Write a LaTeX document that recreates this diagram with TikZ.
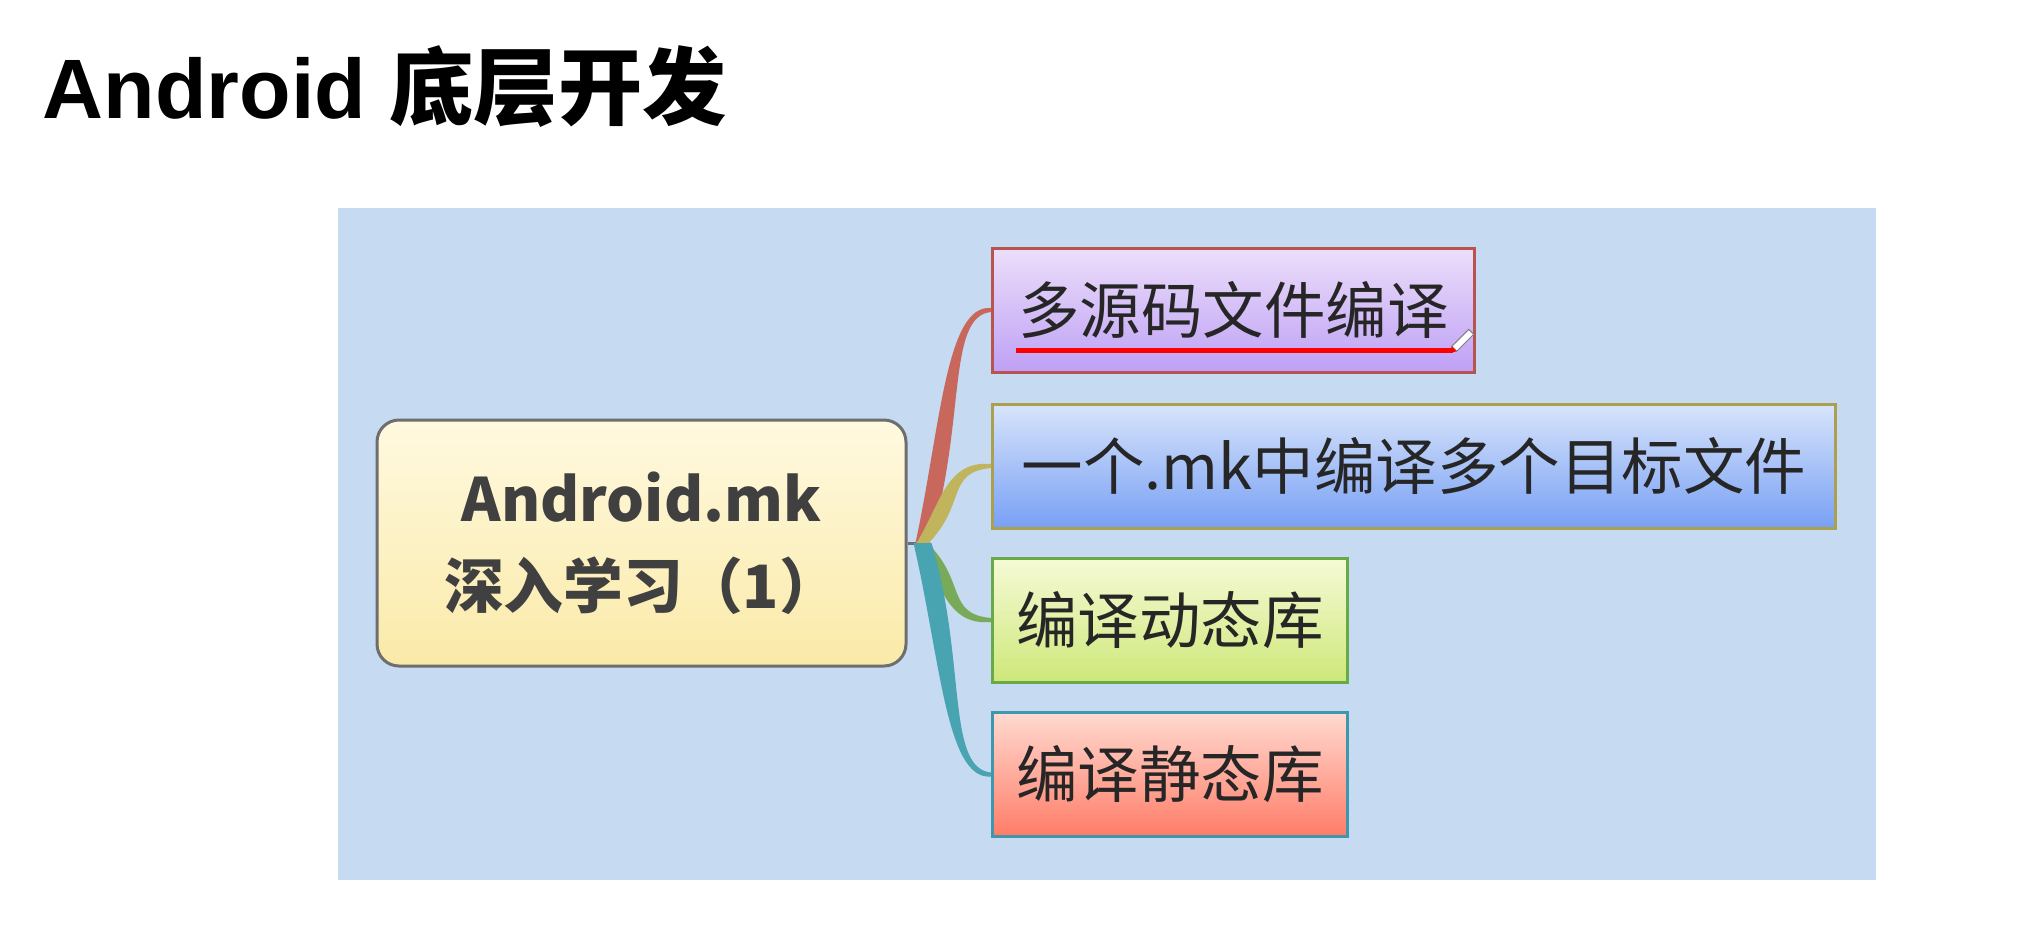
\documentclass[tikz,border=0pt]{standalone}
\usepackage{fontspec}
\setmainfont{Liberation Sans}
\newfontfamily\cjk{Noto Sans CJK SC}
\usetikzlibrary{calc}

\definecolor{bgblue}{RGB}{198,218,242}
\definecolor{rootline}{RGB}{110,110,110}
\definecolor{roottop}{RGB}{255,249,224}
\definecolor{rootbot}{RGB}{250,234,168}
\definecolor{roottext}{RGB}{64,64,64}
\definecolor{oneline}{RGB}{184,84,80}
\definecolor{onetop}{RGB}{236,222,250}
\definecolor{onebot}{RGB}{190,160,245}
\definecolor{twoline}{RGB}{170,160,80}
\definecolor{twotop}{RGB}{216,228,250}
\definecolor{twobot}{RGB}{120,160,245}
\definecolor{threeline}{RGB}{104,170,72}
\definecolor{threetop}{RGB}{246,250,214}
\definecolor{threebot}{RGB}{206,232,122}
\definecolor{fourline}{RGB}{64,150,170}
\definecolor{fourtop}{RGB}{255,218,208}
\definecolor{fourbot}{RGB}{255,124,104}
\definecolor{twigred}{RGB}{200,104,92}
\definecolor{twigolive}{RGB}{192,180,92}
\definecolor{twiggreen}{RGB}{120,170,90}
\definecolor{twigteal}{RGB}{72,164,176}

% tapered branch: colour, target node, end half-width (+ up, - down), start half-width
\newcommand{\twig}[4]{%
  \fill[#1] ($(hub)+(-#4,0)$)
    .. controls ($(hub)!0.5!(hub |- #2.west)+(0.18,0)$) and ($(#2.west)+(-0.45,{3*(#3)})$) .. ($(#2.west)+(0,#3)$)
    -- ($(#2.west)+(0,{-(#3)})$)
    .. controls ($(#2.west)+(-0.45,{-3*(#3)})$) and ($(hub)!0.5!(hub |- #2.west)+(0.44,0)$) .. ($(hub)+(#4,0)$) -- cycle;}

\begin{document}
\begin{tikzpicture}[
    leaf/.style={draw, line width=0.03cm, anchor=west, minimum height=1.24cm, inner sep=0pt,
        font=\cjk\fontsize{17.5}{21}\selectfont, text=black!85},
    ]
    \useasboundingbox (0,0) rectangle (20.40,-9.43);

    \node[anchor=base west, inner sep=0, font=\bfseries\fontsize{24}{29}\selectfont] (title) at (0.42,-1.18) {Android {\cjk 底层开发}};

    % Background panel
    \fill[bgblue] (3.38,-2.08) rectangle (18.76,-8.80);

    % Central topic
    \node[draw=rootline, line width=0.03cm, rounded corners=0.22cm, top color=roottop, bottom color=rootbot,
        minimum width=5.29cm, minimum height=2.46cm, align=center, text=roottext,
        font=\cjk\bfseries\fontsize{17}{24.7}\selectfont] (root) at (6.415,-5.43) {Android.mk\\深入学习（1）};

    % Sub topics
    \node[leaf, draw=oneline, top color=onetop, bottom color=onebot, minimum width=4.82cm] (multi) at (9.91,-3.10) {多源码文件编译};
    \node[leaf, draw=twoline, top color=twotop, bottom color=twobot, minimum width=8.43cm] (targets) at (9.91,-4.66) {一个.mk中编译多个目标文件};
    \node[leaf, draw=threeline, top color=threetop, bottom color=threebot, minimum width=3.55cm] (shared) at (9.91,-6.20) {编译动态库};
    \node[leaf, draw=fourline, top color=fourtop, bottom color=fourbot, minimum width=3.55cm] (static) at (9.91,-7.745) {编译静态库};

    % Branches
    \coordinate (hub) at ($(root.east)+(0.15,0)$);
    \draw[rootline, line width=0.03cm] (root.east) -- (hub);
    \twig{twigred}{multi}{0.02}{0.07}
    \twig{twigolive}{targets}{0.02}{0.06}
    \twig{twiggreen}{shared}{-0.02}{0.05}
    \twig{twigteal}{static}{-0.02}{0.09}

    % Marker underline and pen
    \draw[red, line width=0.05cm] ($(multi.south west)+(0.25,0.23)$) -- ($(multi.south east)+(-0.23,0.23)$);
    \begin{scope}[shift={(14.50,-3.53)}, rotate=45]
        \filldraw[fill=white, draw=gray, line width=0.01cm] (0.06,-0.035) rectangle (0.30,0.035);
        \fill[red] (0,0) -- (0.06,0.035) -- (0.06,-0.035) -- cycle;
    \end{scope}
\end{tikzpicture}
\end{document}
